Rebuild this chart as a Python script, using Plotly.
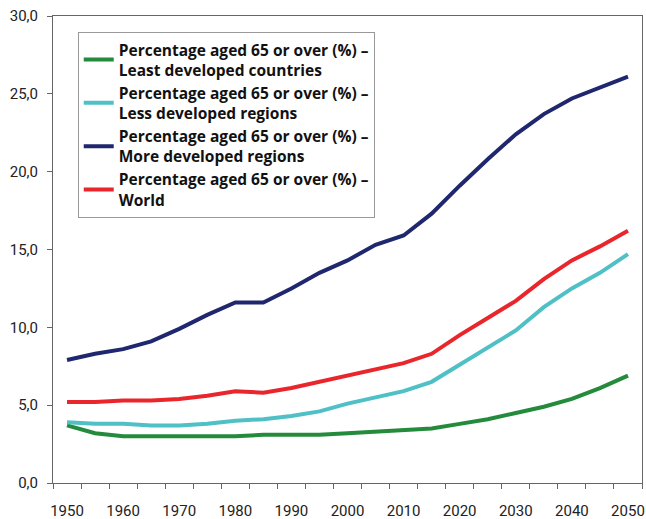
import plotly.graph_objects as go

years = list(range(1950, 2051, 5))
least_developed = [3.7, 3.2, 3.0, 3.0, 3.0, 3.0, 3.0, 3.1, 3.1, 3.1, 3.2, 3.3, 3.4, 3.5, 3.8, 4.1, 4.5, 4.9, 5.4, 6.1, 6.9]
less_developed = [3.9, 3.8, 3.8, 3.7, 3.7, 3.8, 4.0, 4.1, 4.3, 4.6, 5.1, 5.5, 5.9, 6.5, 7.6, 8.7, 9.8, 11.3, 12.5, 13.5, 14.7]
more_developed = [7.9, 8.3, 8.6, 9.1, 9.9, 10.8, 11.6, 11.6, 12.5, 13.5, 14.3, 15.3, 15.9, 17.3, 19.1, 20.8, 22.4, 23.7, 24.7, 25.4, 26.1]
world = [5.2, 5.2, 5.3, 5.3, 5.4, 5.6, 5.9, 5.8, 6.1, 6.5, 6.9, 7.3, 7.7, 8.3, 9.5, 10.6, 11.7, 13.1, 14.3, 15.2, 16.2]

x_tick_labels = list(range(1950, 2051, 10))
y_tick_values = [0, 5, 10, 15, 20, 25, 30]

series_names = [
    "Percentage aged 65 or over (%) –<br>Least developed countries",
    "Percentage aged 65 or over (%) –<br>Less developed regions",
    "Percentage aged 65 or over (%) –<br>More developed regions",
    "Percentage aged 65 or over (%) –<br>World",
]
series_values = [least_developed, less_developed, more_developed, world]
series_colors = ["#238b3b", "#4fc0c5", "#1f276e", "#e8262b"]

fig = go.Figure()
for name, vals, col in zip(series_names, series_values, series_colors):
    fig.add_trace(go.Scatter(x=years, y=vals, mode="lines", name=name,
                             line=dict(color=col, width=4)))

tick_font = dict(family="Roboto, sans-serif", size=15, color="#222")
# category boundaries (ticks sit between the 5-year categories)
boundaries = [y - 2.5 for y in years] + [years[-1] + 2.5]

fig.update_layout(
    width=646, height=519, autosize=False,
    margin=dict(l=53, r=4, t=16, b=36, pad=0, autoexpand=False),
    paper_bgcolor="white", plot_bgcolor="white",
    separators=",.",
    showlegend=True,
    legend=dict(
        x=0.042, y=0.966, xanchor="left", yanchor="top",
        bordercolor="#999", borderwidth=1, bgcolor="white",
        font=dict(family="Open Sans, sans-serif", size=15.5, color="#111", weight="bold"),
        itemwidth=30, tracegroupgap=0,
    ),
    xaxis=dict(
        range=[boundaries[0], boundaries[-1]], tickmode="array", tickvals=x_tick_labels,
        ticks="", ticklen=0, automargin=False,
        minor=dict(tickvals=boundaries, ticks="outside", ticklen=5, tickcolor="#666"),
        showline=True, linecolor="#666", linewidth=1, mirror=True,
        showgrid=False, zeroline=False, tickfont=tick_font, ticklabelstandoff=14,
    ),
    yaxis=dict(
        range=[0, 30], tickmode="array", tickvals=y_tick_values, tickformat=".1f",
        ticks="outside", ticklen=5, tickcolor="#666", automargin=False,
        showline=True, linecolor="#666", linewidth=1, mirror=True,
        showgrid=False, zeroline=False, tickfont=tick_font, ticklabelstandoff=6,
    ),
)

fig.write_html("out.html", config={"displayModeBar": False},
               post_script="document.body.style.margin='0';")
